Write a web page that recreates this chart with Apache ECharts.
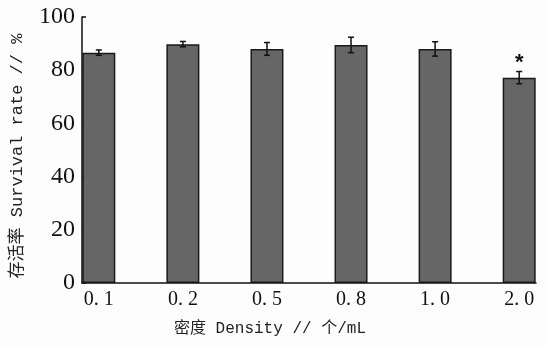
<!DOCTYPE html>
<html>
<head>
<meta charset="utf-8">
<script src="https://cdn.jsdelivr.net/npm/echarts@6/dist/echarts.min.js"></script>
<style>
html,body{margin:0;padding:0;background:#fdfdfd;}
#c{width:548px;height:347px;}
</style>
</head>
<body>
<div id="c"></div>
<script>
const categories = ['0. 1', '0. 2', '0. 5', '0. 8', '1. 0', '2. 0'];
const survival = [86.6, 89.8, 88.0, 89.5, 88.0, 77.2];
const errors = [1.0, 1.0, 2.4, 2.9, 2.7, 2.3];
const significance = ['', '', '', '', '', '*'];
const yTicks = [0, 20, 40, 60, 80, 100];

const chart = echarts.init(document.getElementById('c'));
const barData = survival.map((v, i) => [i, v]);
const errData = survival.map((v, i) => [i, v, errors[i]]);

chart.setOption({
  backgroundColor: '#fdfdfd',
  animation: false,
  grid: { left: 82, right: 12, top: 17, bottom: 64 },
  xAxis: {
    type: 'value', min: -0.2, max: 5.2,
    splitLine: { show: false },
    axisTick: { show: false },
    axisLine: { show: true, onZero: false, lineStyle: { color: '#111', width: 1.5 } },
    axisLabel: {
      customValues: categories.map((c, i) => i),
      formatter: v => categories[Math.round(v)],
      color: '#111', fontFamily: 'Liberation Serif', fontSize: 20, margin: 7
    },
    name: '密度 Density // 个/mL',
    nameLocation: 'middle', nameGap: 38,
    nameTextStyle: { color: '#222', fontFamily: 'Liberation Mono, Noto Sans CJK SC', fontSize: 16, padding: [0, 78, 0, 0] }
  },
  yAxis: {
    type: 'value', min: yTicks[0], max: yTicks[yTicks.length - 1], interval: 20,
    splitLine: { show: false },
    axisLine: { show: true, onZero: false, lineStyle: { color: '#111', width: 1.5 } },
    axisTick: { show: true, inside: true, length: 4, lineStyle: { color: '#111', width: 1.5 } },
    axisLabel: { color: '#111', fontFamily: 'Liberation Serif', fontSize: 24, margin: 7 },
    name: '存活率 Survival rate // %',
    nameLocation: 'middle', nameGap: 56, nameRotate: 90,
    nameTextStyle: { color: '#222', fontFamily: 'Liberation Mono, Noto Sans CJK SC', fontSize: 17, padding: [0, 12, 0, 0] }
  },
  series: [
    {
      type: 'bar', data: barData, barWidth: 33,
      itemStyle: { color: '#666666', borderColor: '#1a1a1a', borderWidth: 1.5 }
    },
    {
      type: 'custom', data: errData, z: 5,
      encode: { x: 0, y: 1 },
      renderItem: function (params, api) {
        const x = api.value(0), m = api.value(1), e = api.value(2);
        const top = api.coord([x, m + e]);
        const bot = api.coord([x, m - e]);
        const hw = 3;
        const st = { stroke: '#111', lineWidth: 1.5 };
        const children = [
          { type: 'line', shape: { x1: top[0], y1: top[1], x2: bot[0], y2: bot[1] }, style: st },
          { type: 'line', shape: { x1: top[0] - hw, y1: top[1], x2: top[0] + hw, y2: top[1] }, style: st },
          { type: 'line', shape: { x1: bot[0] - hw, y1: bot[1], x2: bot[0] + hw, y2: bot[1] }, style: st }
        ];
        const s = significance[params.dataIndex];
        if (s) {
          children.push({ type: 'text', style: { text: s, x: top[0], y: top[1] - 9, align: 'center', verticalAlign: 'middle', fontSize: 22, fontWeight: 'bold', fontFamily: 'Liberation Sans', fill: '#111' } });
        }
        return { type: 'group', children: children };
      }
    }
  ]
});
</script>
</body>
</html>
